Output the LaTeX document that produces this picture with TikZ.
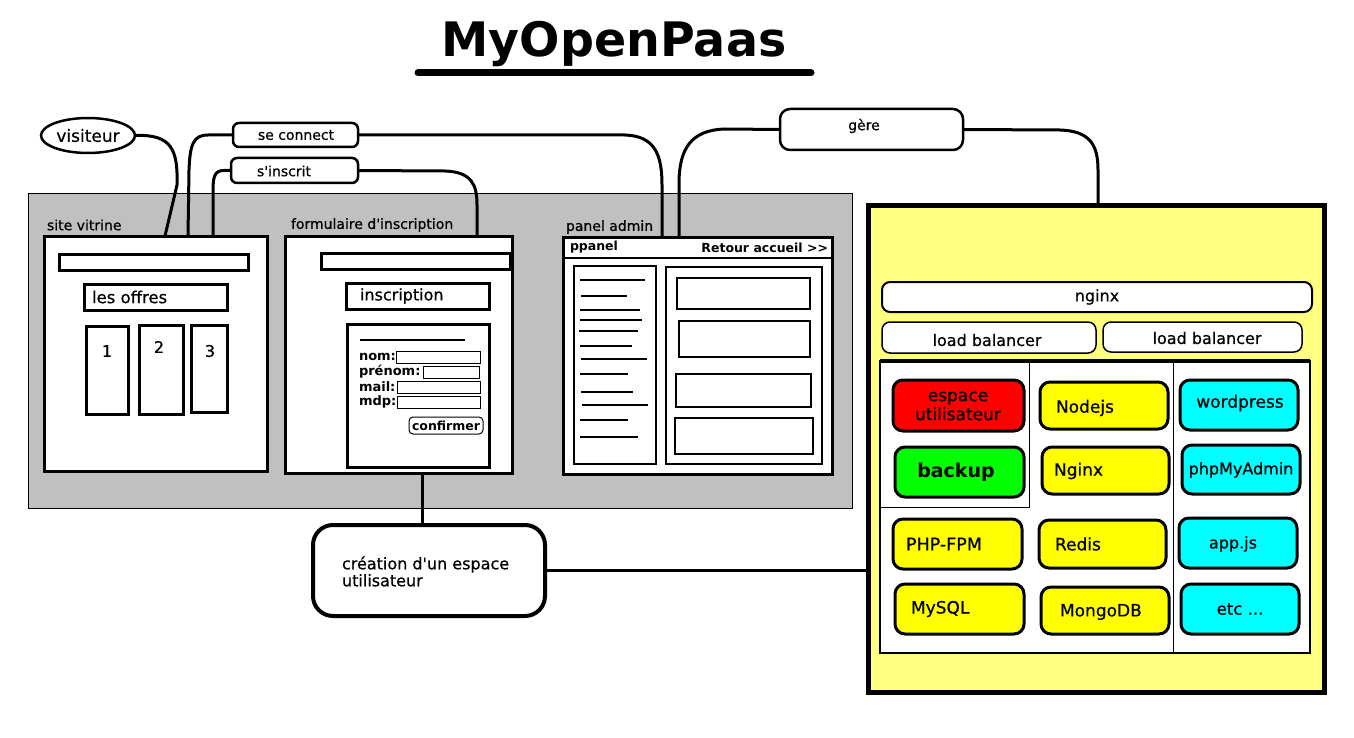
\documentclass[tikz,border=0pt]{standalone}
\usepackage{fontspec}
\setmainfont{DejaVu Sans}[UprightFeatures={FakeBold=0.6}]
\usetikzlibrary{fit,shapes.geometric}
\definecolor{bggray}{HTML}{C0C0C0}
\definecolor{lyel}{HTML}{FFFF80}
\definecolor{yel}{HTML}{FFFF00}
\definecolor{cyn}{HTML}{00FFFF}
\definecolor{grn}{HTML}{00FF00}
\definecolor{rd}{HTML}{FF0000}
\newcommand{\myfs}[1]{\fontsize{#1pt}{#1pt}\selectfont}
\newcommand{\q}{\textquotesingle}
\begin{document}
\begin{tikzpicture}[x=1pt,y=-1pt,
  every node/.style={inner sep=0pt, outer sep=0pt},
  frame/.style={draw, line width=3pt, fill=white, rectangle},
  tagbox/.style={draw, line width=2.5pt, rounded corners=6pt, fill=white},
  svc/.style={draw, line width=3pt, rounded corners=10pt},
  link/.style={line width=3pt},
  small/.style={font=\myfs{14}},
  lw/.style={anchor=west},
]
\useasboundingbox (0,0) rectangle (1354,738);
\fill[white] (0,0) rectangle (1354,738);

% title
\node[anchor=base, font=\bfseries\myfs{47.5}] (title) at (614,57) {MyOpenPaas};
\draw[line width=7pt, line cap=round] (418,73) -- (811,73);

% gray background
\node[draw=black, line width=0.6pt, fill=bggray, fit={(28,193)(852,508)}] (bg) {};

% top nodes
\node[draw, ellipse, line width=2.5pt, fill=white, minimum width=94, minimum height=35, font=\myfs{17}] (vis) at (88,135.5) {visiteur};
\node[tagbox, fit={(233,123)(358,147)}] (sc) {};
\node[small] at (296,135) {se connect};
\node[tagbox, fit={(231,158)(358,183)}] (si) {};
\node[small] at (284,171) {s\q inscrit};
\node[tagbox, rounded corners=10pt, fit={(780,109)(963,150)}] (ge) {};
\node[small] at (864,126) {gère};

% site vitrine
\node[small, lw] (svl) at (47,225) {site vitrine};
\node[frame, fit={(44,236)(267,471)}] (sv) {};
\draw[line width=3pt] (59,254) rectangle (248,270);
\draw[line width=3pt] (84,284) rectangle (227,310);
\node[lw, font=\myfs{16.5}] at (92,297) {les offres};
\draw[line width=3pt] (86,326) rectangle (128,414);
\draw[line width=3pt] (139,325) rectangle (183,414);
\draw[line width=3pt] (191,325) rectangle (227,412);
\node[font=\myfs{16}] at (107,351) {1};
\node[font=\myfs{16}] at (159,347) {2};
\node[font=\myfs{16}] at (210,351) {3};

% formulaire
\node[small, lw] (fl) at (291,225) {formulaire d\q inscription};
\node[frame, fit={(285,236)(512,473)}] (fo) {};
\draw[line width=3pt] (321,253) rectangle (510,269);
\draw[line width=3pt] (346,283) rectangle (489,309);
\node[lw, font=\myfs{16}] at (360,296) {inscription};
\draw[line width=3pt] (347,324) rectangle (489,467);
\draw[line width=2.5pt] (360,340) -- (465,340);
\node[lw, font=\bfseries\myfs{13}] at (359,357) {nom:};
\node[lw, font=\bfseries\myfs{13}] at (359,372) {prénom:};
\node[lw, font=\bfseries\myfs{13}] at (359,387) {mail:};
\node[lw, font=\bfseries\myfs{13}] at (359,402) {mdp:};
\draw[line width=1pt] (396,351) rectangle (480,363);
\draw[line width=1pt] (423,366) rectangle (479,378);
\draw[line width=1pt] (397,381) rectangle (480,393);
\draw[line width=1pt] (397,396) rectangle (480,408);
\node[draw, line width=1pt, rounded corners=4pt, fit={(409,417)(483,434)}] (cf) {};
\node[font=\bfseries\myfs{12.5}] at (446,425.5) {confirmer};

% panel admin
\node[small, lw] (pl) at (566,227) {panel admin};
\node[frame, fit={(563,237)(832,474)}] (pa) {};
\draw[line width=2.5pt] (563,258) -- (832,258);
\node[lw, font=\bfseries\myfs{12.5}] at (570,247) {ppanel};
\node[anchor=east, font=\bfseries\myfs{12.5}] at (828,248) {Retour accueil >{}>};
\draw[line width=2.5pt] (574,266) rectangle (656,464);
\draw[line width=2.5pt] (666,267) rectangle (822,464);
\draw[line width=2.5pt] (677,278) rectangle (810,309);
\draw[line width=2.5pt] (679,321) rectangle (810,357);
\draw[line width=2.5pt] (676,374) rectangle (811,407);
\draw[line width=2.5pt] (675,418) rectangle (813,454);
\foreach \yy/\xa/\xb in {280/580/645,296/581/627,310/580/640,320/580/642,331/579/638,346/580/632,359/581/647,374/580/628,392/581/633,405/582/648,420/580/628,437/580/638}
  \draw[line width=1.5pt] (\xa,\yy) -- (\xb,\yy);

% creation
\node[draw, line width=4pt, fill=white, rounded corners=20pt, fit={(313,525)(545,616)}] (cr) {};
\node[lw, align=left, font=\fontsize{16pt}{17pt}\selectfont] at (342,571.5) {création d\q un espace\\utilisateur};

% yellow server box
\node[draw, line width=5pt, fill=lyel, fit={(868,206)(1324,692)}] (yb) {};
\node[draw, line width=2pt, fill=white, rounded corners=8pt, fit={(882,282)(1312,312)}] (ng) {};
\node[font=\myfs{16}] at (1097,297) {nginx};
\node[draw, line width=1.5pt, fill=white, rounded corners=8pt, fit={(882,322)(1096,353)}] (lb1) {};
\node[font=\myfs{16}] at (987,340) {load balancer};
\node[draw, line width=1.5pt, fill=white, rounded corners=8pt, fit={(1103,322)(1302,352)}] (lb2) {};
\node[font=\myfs{16}] at (1207,338) {load balancer};
\node[draw, line width=2pt, fill=white, fit={(880,361)(1310,653)}] (inner) {};
\draw[line width=3.5pt] (880,361) -- (1310,361);
\draw[line width=1pt] (1029,361) -- (1029,507) -- (880,507);
\draw[line width=1pt] (1173,361) -- (1173,653);

% services
\node[svc, fill=rd, fit={(893,380)(1024,431)}] (s1) {};
\node[align=center, font=\fontsize{17pt}{19pt}\selectfont] at (958,406) {espace\\utilisateur};
\node[svc, fill=grn, fit={(895,447)(1024,497)}] (s2) {};
\node[font=\bfseries\myfs{19}] at (956,472) {backup};
\node[svc, fill=yel, fit={(1040,382)(1168,429)}] (s3) {};
\node[lw, font=\myfs{17}] at (1056,408) {Nodejs};
\node[svc, fill=yel, fit={(1042,447)(1169,494)}] (s4) {};
\node[lw, font=\myfs{17}] at (1054,471) {Nginx};
\node[svc, fill=cyn, fit={(1180,380)(1298,430)}] (s5) {};
\node[font=\myfs{17}] at (1240,403) {wordpress};
\node[svc, fill=cyn, fit={(1182,445)(1300,494)}] (s6) {};
\node[font=\myfs{16}] at (1241,470) {phpMyAdmin};
\node[svc, fill=yel, fit={(893,519)(1022,569)}] (s7) {};
\node[lw, font=\myfs{17.5}] at (906,544) {PHP-FPM};
\node[svc, fill=yel, fit={(1039,520)(1166,568)}] (s8) {};
\node[lw, font=\myfs{17}] at (1055,544) {Redis};
\node[svc, fill=cyn, fit={(1179,518)(1297,568)}] (s9) {};
\node[font=\myfs{16}] at (1233,544) {app.js};
\node[svc, fill=yel, fit={(895,584)(1024,634)}] (s10) {};
\node[lw, font=\myfs{17}] at (911,609) {MySQL};
\node[svc, fill=yel, fit={(1041,587)(1169,634)}] (s11) {};
\node[lw, font=\myfs{17}] at (1060,612) {MongoDB};
\node[svc, fill=cyn, fit={(1181,584)(1299,634)}] (s12) {};
\node[font=\myfs{16.5}] at (1240,609) {etc ...};

% connectors
\coordinate (c1) at (165,236);
\coordinate (c2) at (188,236);
\coordinate (c3) at (213,236);
\coordinate (c4) at (477,236);
\coordinate (c5) at (662,237);
\coordinate (c6) at (679,237);
\coordinate (c7) at (1098,206);
\coordinate (c8) at (422,473);
\draw[link] (vis.east) .. controls (172,134) and (178,150) .. (177,185) -- (c1);
\draw[link] (sc.west) -- (208,135) .. controls (193,135) and (190,145) .. (189,170) -- (c2);
\draw[link] (si.west) -- (224,170.5) .. controls (215,170.5) and (213,176) .. (213,190) -- (c3);
\draw[link] (si.east) -- (445,171) .. controls (472,172) and (477,185) .. (477,205) -- (c4);
\draw[link] (sc.east) -- (625,135) .. controls (655,136) and (662,155) .. (662,185) -- (c5);
\draw[link] (ge.west) -- (725,129) .. controls (690,130) and (680,150) .. (679,180) -- (c6);
\draw[link] (ge.east) -- (1060,130) .. controls (1090,131) and (1098,145) .. (1098,170) -- (c7);
\draw[link] (c8) -- (c8 |- cr.north);
\draw[link] (cr.east) -- (cr.east -| yb.west);
\end{tikzpicture}
\end{document}
